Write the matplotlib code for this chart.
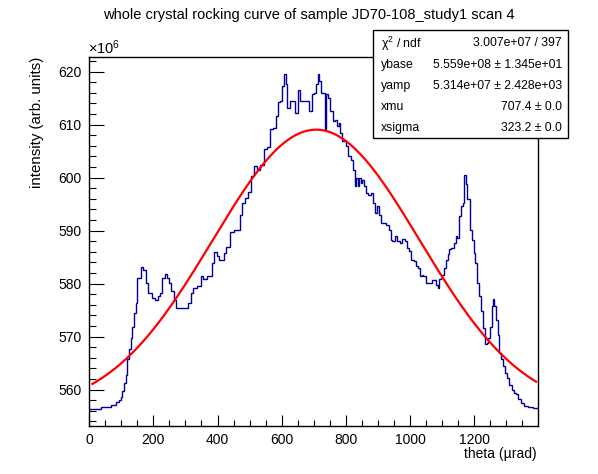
import numpy as np
import matplotlib
matplotlib.use("Agg")
import matplotlib.pyplot as plt
from matplotlib.patches import Rectangle
from matplotlib.ticker import MultipleLocator

plt.rcParams['font.family'] = ['Liberation Sans', 'DejaVu Sans']
plt.rcParams['mathtext.fontset'] = 'custom'
plt.rcParams['mathtext.rm'] = 'Liberation Sans'
plt.rcParams['mathtext.it'] = 'Liberation Sans'

# ---------------- data ----------------
# histogram segment starts (theta, urad), last edge = theta_max
theta_starts = [0, 36, 67, 82, 93, 98, 103, 108, 114, 119,
                124, 129, 134, 140, 145, 150, 163, 169, 176, 182,
                197, 204, 213, 220, 228, 236, 244, 250, 256, 265,
                272, 309, 317, 324, 336, 349, 356, 367, 382, 390,
                398, 406, 419, 427, 438, 450, 471, 476, 487, 494,
                504, 513, 523, 533, 544, 554, 563, 573, 581, 588,
                594, 601, 606, 612, 617, 625, 640, 651, 658, 684,
                693, 700, 707, 712, 716, 721, 735, 739, 745, 752,
                760, 766, 773, 778, 783, 789, 801, 807, 815, 822,
                828, 832, 837, 841, 846, 851, 856, 864, 870, 877,
                884, 891, 898, 903, 908, 924, 934, 940, 945, 953,
                960, 968, 976, 983, 990, 997, 1004, 1011, 1018, 1025,
                1031, 1036, 1042, 1049, 1067, 1080, 1086, 1091, 1096, 1101,
                1106, 1112, 1117, 1122, 1127, 1138, 1143, 1148, 1153, 1158,
                1164, 1169, 1174, 1179, 1186, 1192, 1198, 1202, 1208, 1215,
                1221, 1227, 1233, 1240, 1244, 1250, 1254, 1258, 1263, 1268,
                1273, 1278, 1283, 1289, 1296, 1302, 1310, 1317, 1323, 1330,
                1338, 1346, 1356, 1367, 1382]
theta_max = 1398
# intensity in units of 1e6
intensity = [556.4, 556.7, 557.2, 557.6, 558.1, 558.7, 559.7, 561.3, 562.8, 565.7,
             567.6, 569.8, 571.9, 574.5, 576.4, 581.1, 583.2, 582.6, 580.1, 578.3,
             577.3, 577.0, 577.6, 578.3, 581.1, 581.9, 581.1, 580.1, 578.6, 577.0,
             575.4, 576.4, 578.3, 579.2, 579.5, 581.4, 580.8, 581.5, 583.9, 585.9,
             585.2, 584.5, 585.8, 587.0, 589.7, 590.2, 593.0, 595.2, 596.2, 597.2,
             600.3, 602.1, 601.5, 602.3, 605.4, 605.8, 609.1, 609.4, 611.6, 614.2,
             614.4, 617.2, 619.6, 617.6, 613.2, 614.4, 612.2, 616.6, 614.4, 612.5,
             615.7, 616.0, 617.6, 619.6, 618.2, 616.0, 609.1, 615.7, 615.0, 612.5,
             610.6, 610.9, 609.7, 610.3, 608.4, 606.9, 605.9, 604.0, 603.4, 601.5,
             598.4, 599.9, 598.4, 599.9, 599.0, 599.6, 598.4, 597.1, 596.8, 597.1,
             595.2, 593.3, 594.6, 593.0, 591.5, 591.1, 590.2, 588.3, 588.0, 588.9,
             588.0, 587.7, 588.5, 588.1, 586.7, 586.1, 584.5, 584.2, 583.3, 583.0,
             581.4, 581.7, 581.4, 580.1, 580.6, 579.8, 579.2, 580.8, 581.1, 581.7,
             583.0, 584.5, 585.5, 586.5, 586.7, 587.7, 588.9, 588.6, 592.7, 594.6,
             595.2, 600.4, 598.7, 595.9, 590.2, 588.3, 585.8, 583.9, 580.1, 577.6,
             574.8, 571.6, 568.6, 568.8, 569.8, 571.9, 575.7, 577.1, 575.7, 573.2,
             570.4, 566.9, 565.7, 564.4, 563.1, 562.2, 560.9, 560.0, 559.4, 559.1,
             558.2, 557.5, 557.0, 556.7, 556.5]

# fit parameters (from stats box)
ybase = 5.559e8
yamp = 5.314e7
xmu = 707.4
xsigma = 323.2
fit_range = [10, 1393]

stat_labels = ['\u03c7$^{2}$ / ndf', 'ybase', 'yamp', 'xmu', 'xsigma']
stat_values = ['3.007e+07 / 397', '5.559e+08 \u00b1 1.345e+01',
               '5.314e+07 \u00b1 2.428e+03', '707.4 \u00b1 0.0', '323.2 \u00b1 0.0']

title = 'whole crystal rocking curve of sample JD70-108_study1 scan 4'
xlabel = 'theta (\u00b5rad)'
ylabel = 'intensity (arb. units)'

# ---------------- figure ----------------
W, H = 598, 474
fig = plt.figure(figsize=(W / 100, H / 100), dpi=100)
L, R, T, B = 89.2, 537.7, 56.7, 426.0
ax = fig.add_axes([L / W, 1 - B / H, (R - L) / W, (B - T) / H])

n = min(len(theta_starts), len(intensity))
edges = np.array(list(theta_starts[:n]) + [theta_max], dtype=float)
vals = np.array(intensity[:n], dtype=float)
ax.stairs(vals, edges, baseline=None, color='#000099', lw=1.0, zorder=2)

xf = np.linspace(fit_range[0], fit_range[1], 400)
yf = (ybase + yamp * np.exp(-0.5 * ((xf - xmu) / xsigma) ** 2)) / 1e6
ax.plot(xf, yf, color='#ff0000', lw=1.6, zorder=3)

ax.set_xlim(0, theta_max)
ax.set_ylim(553.15, 622.8)

ax.xaxis.set_major_locator(MultipleLocator(200))
ax.xaxis.set_minor_locator(MultipleLocator(50))
ax.yaxis.set_major_locator(MultipleLocator(10))
ax.yaxis.set_minor_locator(MultipleLocator(2))
ax.tick_params(axis='both', which='both', direction='in', top=False, right=False,
               labelsize=10, colors='black')
ax.tick_params(axis='x', which='major', length=8.1, width=0.8, pad=5)
ax.tick_params(axis='x', which='minor', length=4.0, width=0.8)
ax.tick_params(axis='y', which='major', length=10.6, width=0.8, pad=5.5)
ax.tick_params(axis='y', which='minor', length=5.3, width=0.8)
for s in ax.spines.values():
    s.set_linewidth(1.0)

# axis titles (ROOT style: aligned to the end of the axis)
fig.text(537 / W, 1 - 454 / H, xlabel, ha='right', va='center', fontsize=10)
fig.text(37 / W, 1 - 57 / H, ylabel, ha='center', va='top', rotation=90, fontsize=10.8)
fig.text(88 / W, 1 - 54 / H, r'$\times10^{6}$', ha='left', va='baseline', fontsize=10.5)

# title
fig.text(309 / W, 1 - 15 / H, title, ha='center', va='center', fontsize=10.5)

# stats box
bx0, bx1, by0, by1 = 373, 568, 30, 138
fig.add_artist(Rectangle((bx0 / W, 1 - by1 / H), (bx1 - bx0) / W, (by1 - by0) / H,
                         transform=fig.transFigure, facecolor='white',
                         edgecolor='black', lw=1.0, zorder=5))
for i, (lab, val) in enumerate(zip(stat_labels, stat_values)):
    yc = 1 - (43.5 + 21.2 * i) / H
    fig.text(381 / W, yc, lab, ha='left', va='center', fontsize=8.8, zorder=6)
    fig.text(562 / W, yc, val, ha='right', va='center', fontsize=8.8, zorder=6)

fig.savefig('out.png', dpi=100)
